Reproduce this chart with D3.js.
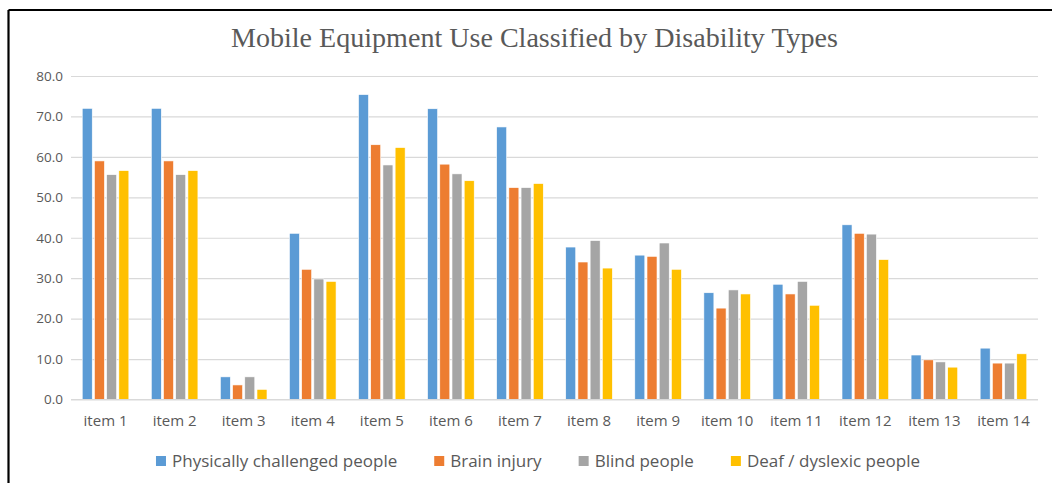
<!DOCTYPE html>
<html>
<head>
<meta charset="utf-8">
<script src="https://cdn.jsdelivr.net/npm/d3@7"></script>
<style>
  html, body { margin: 0; padding: 0; background: #fff; }
  svg { display: block; }
</style>
</head>
<body>
<svg id="chart" width="1052" height="483"></svg>
<script>
const categories = ["item 1","item 2","item 3","item 4","item 5","item 6","item 7","item 8","item 9","item 10","item 11","item 12","item 13","item 14"];
const seriesNames = ["Physically challenged people","Brain injury","Blind people","Deaf / dyslexic people"];
const physically = [72.0, 72.0, 5.6, 41.1, 75.4, 71.9, 67.4, 37.7, 35.7, 26.4, 28.5, 43.2, 11.0, 12.7];
const brainInjury = [59.0, 59.0, 3.6, 32.2, 63.0, 58.2, 52.4, 34.0, 35.4, 22.6, 26.1, 41.1, 9.8, 9.0];
const blind = [55.6, 55.6, 5.6, 29.8, 58.0, 55.8, 52.4, 39.3, 38.7, 27.1, 29.2, 40.9, 9.3, 9.0];
const deaf = [56.6, 56.6, 2.5, 29.2, 62.3, 54.1, 53.4, 32.5, 32.2, 26.1, 23.3, 34.6, 8.0, 11.3];
const yTicks = [0, 10, 20, 30, 40, 50, 60, 70, 80];
const colors = ["#5B9BD5", "#ED7D31", "#A5A5A5", "#FFC000"];
const title = "Mobile Equipment Use Classified by Disability Types";

const seriesValues = [physically, brainInjury, blind, deaf];

const svg = d3.select("#chart");
const plotLeft = 71, plotRight = 1038, plotTop = 76, plotBottom = 399.5;
const textColor = "#595959";
const sansFont = "'Open Sans', 'Noto Sans', sans-serif";

// frame lines
svg.append("line").attr("x1", 8.5).attr("x2", 1052).attr("y1", 10).attr("y2", 10)
  .attr("stroke", "#000").attr("stroke-width", 2.2);
svg.append("line").attr("x1", 8.5).attr("x2", 8.5).attr("y1", 10).attr("y2", 483)
  .attr("stroke", "#000").attr("stroke-width", 2.2);

// title
svg.append("text")
  .attr("x", 534.5).attr("y", 47)
  .attr("text-anchor", "middle")
  .attr("font-family", "'Liberation Serif', 'Times New Roman', serif")
  .attr("font-size", 27)
  .attr("textLength", 607)
  .attr("lengthAdjust", "spacingAndGlyphs")
  .attr("fill", textColor)
  .text(title);

const x0 = d3.scaleBand().domain(categories).range([plotLeft, plotRight]).paddingInner(0.325).paddingOuter(0.1625);
const x1 = d3.scaleBand().domain(seriesNames).range([0, x0.bandwidth()]).paddingInner(0.18);
const y = d3.scaleLinear().domain([0, 80]).range([plotBottom, plotTop]);

// gridlines
const yAxis = d3.axisLeft(y).tickValues(yTicks).tickFormat(d3.format(".1f")).tickSize(-(plotRight - plotLeft)).tickPadding(8);
const gAxis = svg.append("g").attr("transform", `translate(${plotLeft},0)`).call(yAxis);
gAxis.select(".domain").remove();
gAxis.selectAll(".tick line").attr("stroke", "#d9d9d9").attr("stroke-width", 1.2);
gAxis.selectAll(".tick text").attr("font-family", sansFont).attr("font-size", 13.5).attr("fill", textColor);

// bars
const groups = svg.append("g").selectAll("g")
  .data(categories)
  .join("g")
  .attr("transform", d => `translate(${x0(d)},0)`);

groups.selectAll("rect")
  .data((d, i) => seriesNames.map((s, j) => ({ s, j, v: seriesValues[j][i] })))
  .join("rect")
  .attr("x", d => x1(d.s))
  .attr("width", x1.bandwidth())
  .attr("y", d => y(d.v))
  .attr("height", d => y(0) - y(d.v))
  .attr("fill", d => colors[d.j])
  .attr("stroke", "#fff")
  .attr("stroke-width", 0.6);

// x axis baseline
svg.append("line").attr("x1", plotLeft).attr("x2", plotRight).attr("y1", y(0)).attr("y2", y(0))
  .attr("stroke", "#d9d9d9").attr("stroke-width", 1.2);

// x axis labels
const xAxis = d3.axisBottom(x0).tickSize(0).tickPadding(16);
const gx = svg.append("g").attr("transform", `translate(0,${plotBottom})`).call(xAxis);
gx.select(".domain").remove();
gx.selectAll(".tick text").attr("font-family", sansFont).attr("font-size", 15).attr("fill", textColor);

// legend
const legend = svg.append("g");
const legendY = 461;
const items = [];
seriesNames.forEach((name, i) => {
  const g = legend.append("g");
  g.append("rect").attr("x", 0).attr("y", legendY - 5).attr("width", 10).attr("height", 10).attr("fill", colors[i]);
  const t = g.append("text").attr("x", 16).attr("y", legendY).attr("dy", "0.35em")
    .attr("font-family", sansFont).attr("font-size", 17).attr("fill", textColor).text(name);
  const w = 16 + t.node().getComputedTextLength();
  items.push({ g, w });
});
const gap = 37;
const total = d3.sum(items, d => d.w) + gap * (items.length - 1);
let cx = 538 - total / 2;
items.forEach(it => { it.g.attr("transform", `translate(${cx},0)`); cx += it.w + gap; });
</script>
</body>
</html>
